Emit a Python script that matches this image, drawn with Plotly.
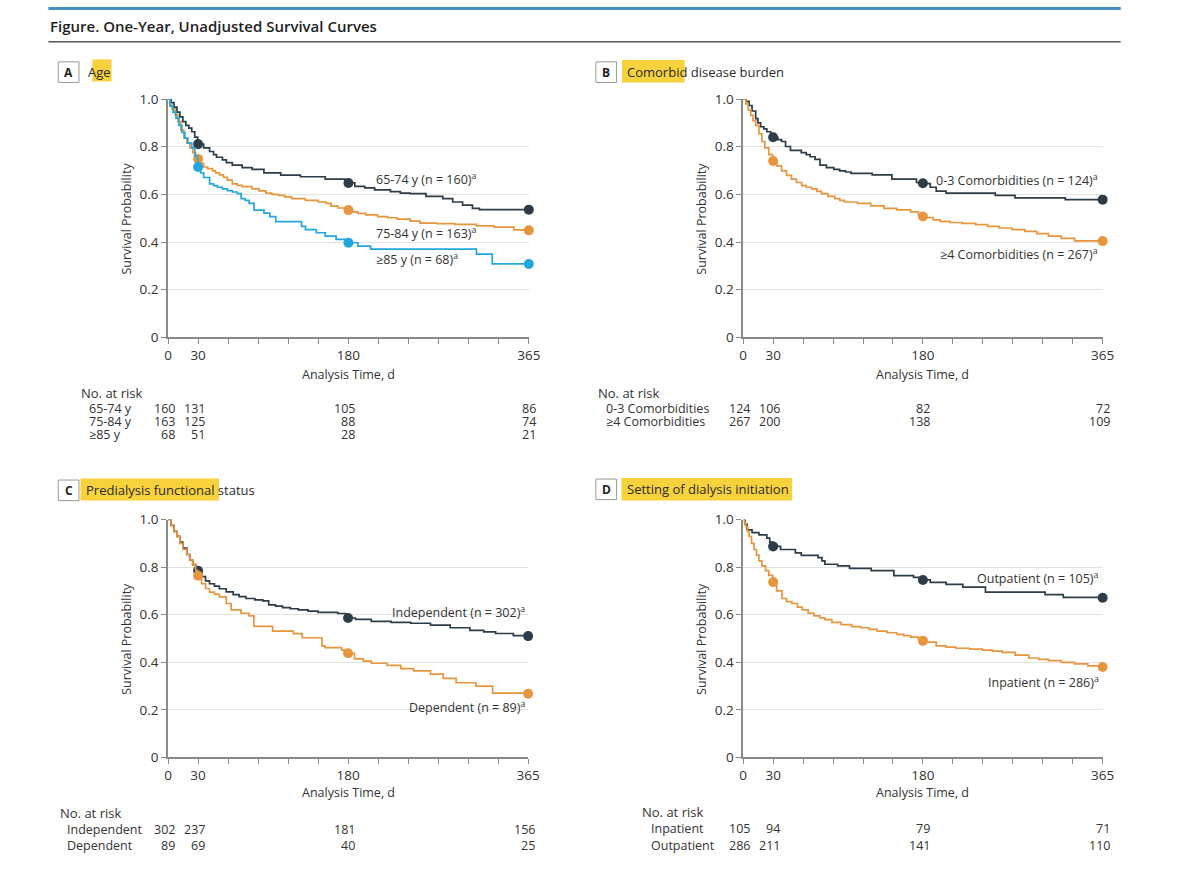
import plotly.graph_objects as go

# The page body keeps the browser's default 8 px margin, so the figure is made
# 16 px smaller than the window and every page position is shifted by 8 px.
PAGE_W, PAGE_H = 1200, 885
OFF = 8
W, H = PAGE_W - 2 * OFF, PAGE_H - 2 * OFF
MONTH = 365 / 12

# ---------------- data ----------------
tick_months = [0, 1, 6, 12]
tick_labels = ["0", "30", "180", "365"]
minor_months = list(range(13))
mark_months = [1, 6, 12]          # dots at 30 d, 180 d, 365 d

# Panel A: Age
a_labels = ["65-74 y", "75-84 y", "≥85 y"]
a_n = [160, 163, 68]
a1_t = [0, 3, 6, 9, 12, 15, 18, 21, 24, 27, 30, 36, 42, 46, 49, 55, 59, 65, 75, 85, 97, 114, 134, 159, 179, 189, 199, 209, 225, 235, 245, 261, 278, 288, 298, 308, 315, 365]
a1_s = [1, 0.985, 0.966, 0.945, 0.925, 0.905, 0.89, 0.878, 0.863, 0.84, 0.811, 0.795, 0.78, 0.767, 0.756, 0.745, 0.733, 0.723, 0.712, 0.705, 0.69, 0.681, 0.674, 0.664, 0.648, 0.634, 0.627, 0.619, 0.612, 0.605, 0.603, 0.592, 0.582, 0.568, 0.555, 0.541, 0.536, 0.536]
a2_t = [0, 2, 4, 7, 10, 13, 16, 19, 22, 25, 28, 30, 33, 36, 40, 45, 48, 52, 56, 60, 65, 70, 75, 85, 92, 99, 105, 112, 118, 125, 139, 152, 160, 165, 172, 179, 186, 192, 200, 212, 222, 232, 245, 255, 272, 290, 312, 330, 350, 365]
a2_s = [1, 0.975, 0.959, 0.935, 0.905, 0.87, 0.836, 0.815, 0.795, 0.775, 0.76, 0.749, 0.73, 0.715, 0.708, 0.699, 0.69, 0.682, 0.672, 0.66, 0.644, 0.638, 0.633, 0.623, 0.615, 0.605, 0.6, 0.596, 0.59, 0.582, 0.575, 0.568, 0.562, 0.551, 0.543, 0.534, 0.527, 0.52, 0.514, 0.507, 0.502, 0.496, 0.488, 0.479, 0.477, 0.474, 0.468, 0.463, 0.451, 0.451]
a3_t = [0, 2, 5, 8, 11, 14, 17, 20, 24, 27, 30, 33, 36, 42, 46, 50, 55, 60, 65, 70, 74, 78, 82, 87, 97, 103, 109, 135, 139, 150, 159, 170, 179, 192, 205, 312, 328, 365]
a3_s = [1, 0.97, 0.945, 0.92, 0.89, 0.86, 0.836, 0.815, 0.795, 0.76, 0.715, 0.69, 0.671, 0.644, 0.637, 0.63, 0.623, 0.616, 0.61, 0.603, 0.582, 0.575, 0.562, 0.534, 0.521, 0.507, 0.486, 0.466, 0.452, 0.439, 0.425, 0.411, 0.397, 0.383, 0.37, 0.349, 0.308, 0.308]
a_marks = [[0.811, 0.648, 0.536], [0.749, 0.534, 0.449], [0.715, 0.397, 0.308]]
a_risk = [[160, 131, 105, 86], [163, 125, 88, 74], [68, 51, 28, 21]]

# Panel B: Comorbid disease burden
b_labels = ["0-3 Comorbidities", "≥4 Comorbidities"]
b_n = [124, 267]
b1_t = [0, 3, 6, 9, 12.7, 15, 17.7, 21, 24, 28, 30, 35, 39, 43, 48, 59, 64, 68, 73, 78, 84.5, 92, 98, 104, 109.5, 131, 151, 176, 184, 190, 196, 206, 256, 276, 327, 365]
b1_s = [1, 0.99, 0.973, 0.95, 0.918, 0.9, 0.884, 0.875, 0.863, 0.85, 0.84, 0.83, 0.822, 0.801, 0.785, 0.775, 0.767, 0.758, 0.747, 0.723, 0.712, 0.705, 0.699, 0.694, 0.688, 0.682, 0.664, 0.65, 0.645, 0.63, 0.614, 0.605, 0.596, 0.585, 0.578, 0.578]
b2_t = [0, 2.7, 5, 7.7, 10, 12.7, 16, 19, 22, 26, 30, 34, 39, 44, 49, 54, 59.4, 64, 69.5, 75, 79.5, 86, 93, 98, 103, 116, 129.5, 143, 156, 170, 178, 186, 193, 200, 210, 222, 236, 248, 260, 273, 286, 298, 310, 323, 336.5, 365]
b2_s = [1, 0.98, 0.955, 0.932, 0.91, 0.89, 0.855, 0.822, 0.795, 0.767, 0.74, 0.72, 0.699, 0.68, 0.664, 0.65, 0.637, 0.63, 0.623, 0.613, 0.603, 0.592, 0.582, 0.575, 0.568, 0.562, 0.552, 0.541, 0.535, 0.527, 0.513, 0.503, 0.493, 0.487, 0.482, 0.478, 0.473, 0.466, 0.459, 0.452, 0.445, 0.435, 0.425, 0.415, 0.405, 0.405]
b_marks = [[0.84, 0.647, 0.578], [0.74, 0.507, 0.404]]
b_risk = [[124, 106, 82, 72], [267, 200, 138, 109]]

# Panel C: Predialysis functional status
c_labels = ["Independent", "Dependent"]
c_n = [302, 89]
c1_t = [0, 3, 6, 9, 12, 15, 19, 22, 25, 28, 30, 34, 38, 42, 47, 52, 59, 66, 72, 79, 88, 96, 102, 109, 116, 124, 132, 142, 152, 172, 180, 190, 206, 226, 246, 266, 286, 306, 320, 332, 350, 365]
c1_s = [1, 0.975, 0.95, 0.929, 0.905, 0.88, 0.853, 0.83, 0.81, 0.795, 0.785, 0.76, 0.742, 0.73, 0.72, 0.709, 0.696, 0.684, 0.676, 0.668, 0.662, 0.658, 0.641, 0.636, 0.63, 0.625, 0.62, 0.615, 0.61, 0.605, 0.586, 0.58, 0.572, 0.568, 0.564, 0.556, 0.545, 0.534, 0.528, 0.521, 0.512, 0.512]
c2_t = [0, 3, 6, 9, 12, 15, 19, 22, 25, 28, 30, 34, 38, 42, 47, 52, 59, 64, 74, 82, 87, 106, 127, 136, 156, 159, 176, 182, 189, 198, 206, 222, 236, 249, 266, 279, 292, 312, 329, 365]
c2_s = [1, 0.975, 0.95, 0.929, 0.9, 0.875, 0.853, 0.83, 0.81, 0.785, 0.764, 0.73, 0.71, 0.695, 0.686, 0.675, 0.647, 0.62, 0.606, 0.595, 0.551, 0.531, 0.52, 0.503, 0.469, 0.462, 0.451, 0.438, 0.414, 0.405, 0.396, 0.387, 0.373, 0.364, 0.35, 0.332, 0.314, 0.3, 0.27, 0.27]
c_marks = [[0.785, 0.586, 0.51], [0.764, 0.438, 0.268]]
c_risk = [[302, 237, 181, 156], [89, 69, 40, 25]]

# Panel D: Setting of dialysis initiation
d_labels = ["Outpatient", "Inpatient"]
d_n = [105, 286]
d1_t = [0, 2, 4, 9, 16, 24, 27, 30, 38, 53, 59, 76, 80, 83, 96, 108, 130, 153, 173, 180, 190, 206, 223, 246, 306.5, 325, 365]
d1_s = [1, 0.98, 0.956, 0.945, 0.935, 0.922, 0.905, 0.887, 0.874, 0.86, 0.849, 0.84, 0.826, 0.812, 0.805, 0.795, 0.785, 0.764, 0.757, 0.746, 0.736, 0.727, 0.716, 0.695, 0.684, 0.673, 0.673]
d2_t = [0, 1.5, 2.7, 4.5, 6, 8.5, 11, 13.5, 16, 19, 22.7, 26, 30, 34, 39.4, 44, 49.4, 55, 60, 66, 72, 78, 83, 90, 99.5, 110, 119.5, 128, 136, 146, 156, 163, 170, 178, 186, 196, 206, 216, 230, 243, 253, 263, 276, 290, 300, 310, 323, 336.5, 350, 365]
d2_s = [1, 0.985, 0.97, 0.95, 0.929, 0.9, 0.874, 0.85, 0.826, 0.805, 0.785, 0.765, 0.737, 0.7, 0.668, 0.655, 0.647, 0.632, 0.62, 0.606, 0.595, 0.587, 0.579, 0.568, 0.558, 0.55, 0.545, 0.538, 0.531, 0.524, 0.517, 0.512, 0.506, 0.497, 0.485, 0.469, 0.464, 0.459, 0.455, 0.451, 0.447, 0.442, 0.43, 0.418, 0.412, 0.407, 0.4, 0.393, 0.385, 0.382]
d_marks = [[0.887, 0.746, 0.671], [0.737, 0.49, 0.38]]
d_table_labels = ["Inpatient", "Outpatient"]
d_risk = [[105, 94, 79, 71], [286, 211, 141, 110]]

# ---------------- style ----------------
DARK = "#2C3D49"
ORANGE = "#E8963D"
BLUE = "#22A6DD"
TXT = "#333333"
AX = "#8a8a8a"
GRID = "#e2e2e2"
FONT = "Open Sans"


def px(x):
    return (x - OFF) / W


def py(y):
    return 1 - (y - OFF) / H


panels = [
    dict(letter="A", title="Age", xd=(174.3, 540), yd=(100, 343.3), xn="", box=(63, 62),
         tx=91, hl=(97.5, 59.5, 117, 82), ylab_x=132, xtitle_y=381,
         series=[(a1_t, a1_s, DARK, a_marks[0]), (a2_t, a2_s, ORANGE, a_marks[1]), (a3_t, a3_s, BLUE, a_marks[2])],
         labels=[f"{l} (n = {n})<sup>a</sup>" for l, n in zip(a_labels, a_n)],
         lab_pos=[(383, 181.7), (383, 236.7), (383, 263)], lab_anchor="left",
         tbl_head=(84, 400), tbl_lab_x=92, tbl_rows=[416, 429.5, 443], tbl_labels=a_labels, risk=a_risk),
    dict(letter="B", title="Comorbid disease burden", xd=(757.3, 1121.7), yd=(100, 343.3), xn="2", box=(608, 62),
         tx=637, hl=(634.5, 60, 698, 83), ylab_x=715, xtitle_y=381,
         series=[(b1_t, b1_s, DARK, b_marks[0]), (b2_t, b2_s, ORANGE, b_marks[1])],
         labels=[f"{l} (n = {n})<sup>a</sup>" for l, n in zip(b_labels, b_n)],
         lab_pos=[(1119, 182.7), (1119, 258)], lab_anchor="right",
         tbl_head=(608.6, 400), tbl_lab_x=616, tbl_rows=[416, 429.5], tbl_labels=b_labels, risk=b_risk),
    dict(letter="C", title="Predialysis functional status", xd=(174.3, 539.3), yd=(529.3, 772.3), xn="3", box=(63, 489),
         tx=89, hl=(85.5, 487.5, 226, 510), ylab_x=132, xtitle_y=808,
         series=[(c1_t, c1_s, DARK, c_marks[0]), (c2_t, c2_s, ORANGE, c_marks[1])],
         labels=[f"{l} (n = {n})<sup>a</sup>" for l, n in zip(c_labels, c_n)],
         lab_pos=[(538, 624), (538, 720.7)], lab_anchor="right",
         tbl_head=(63, 829), tbl_lab_x=70, tbl_rows=[846, 862], tbl_labels=c_labels, risk=c_risk),
    dict(letter="D", title="Setting of dialysis initiation", xd=(757.3, 1121.7), yd=(529.3, 772.3), xn="4", box=(608, 488),
         tx=637, hl=(634, 487, 807, 510), ylab_x=715, xtitle_y=808,
         series=[(d1_t, d1_s, DARK, d_marks[0]), (d2_t, d2_s, ORANGE, d_marks[1])],
         labels=[f"{l} (n = {n})<sup>a</sup>" for l, n in zip(d_labels, d_n)],
         lab_pos=[(1120, 589), (1120, 695)], lab_anchor="right",
         tbl_head=(653, 828), tbl_lab_x=662, tbl_rows=[845, 862], tbl_labels=d_table_labels, risk=d_risk),
]

fig = go.Figure()
shapes = []
annotations = []
layout = {}

markx = [m * MONTH for m in mark_months]

for p in panels:
    xn = p["xn"]
    xref = "x" + xn
    yref = "y" + xn
    for t, s, col, mk in p["series"]:
        fig.add_trace(go.Scatter(x=t, y=s, mode="lines", line=dict(color=col, width=1.7, shape="hv"),
                                 xaxis=xref, yaxis=yref, showlegend=False, hoverinfo="skip"))
        fig.add_trace(go.Scatter(x=markx, y=mk, mode="markers", marker=dict(color=col, size=10),
                                 xaxis=xref, yaxis=yref, showlegend=False, cliponaxis=False))
    layout["xaxis" + xn] = dict(domain=[px(p["xd"][0]), px(p["xd"][1])], range=[0, 365], anchor=yref,
                                tickmode="array", tickvals=[m * MONTH for m in tick_months],
                                ticktext=tick_labels, ticks="outside", ticklen=5,
                                tickcolor=AX, tickwidth=1.2,
                                minor=dict(tickmode="array", tickvals=[m * MONTH for m in minor_months],
                                           ticks="outside", ticklen=5, tickcolor=AX, tickwidth=1.2,
                                           showgrid=False),
                                showline=True, linecolor=AX, linewidth=1.5,
                                showgrid=False, zeroline=False, fixedrange=True,
                                tickfont=dict(family=FONT, size=13.5, color=TXT))
    layout["yaxis" + xn] = dict(domain=[py(p["yd"][1]), py(p["yd"][0])], range=[0, 1], anchor=xref,
                                tickmode="array", tickvals=[0, 0.2, 0.4, 0.6, 0.8, 1.0],
                                ticktext=["0", "0.2", "0.4", "0.6", "0.8", "1.0"],
                                ticks="outside", ticklen=5, tickcolor=AX, tickwidth=1.2,
                                showline=True, linecolor=AX, linewidth=1.5, showgrid=True,
                                gridcolor=GRID, gridwidth=1, zeroline=False, fixedrange=True,
                                tickfont=dict(family=FONT, size=13.5, color=TXT))
    # panel letter box and title
    bx, by = p["box"]
    shapes.append(dict(type="rect", xref="paper", yref="paper", x0=px(bx), x1=px(bx + 21),
                       y0=py(by + 21), y1=py(by), line=dict(color="#999999", width=1), fillcolor="white"))
    annotations.append(dict(text="<b>" + p["letter"] + "</b>", xref="paper", yref="paper",
                            x=px(bx + 10.5), y=py(by + 10.5), xanchor="center", yanchor="middle",
                            showarrow=False, font=dict(family=FONT, size=12, color="#222")))
    hx0, hy0, hx1, hy1 = p["hl"]
    shapes.append(dict(type="rect", xref="paper", yref="paper", x0=px(hx0), x1=px(hx1),
                       y0=py(hy1), y1=py(hy0), line=dict(width=0), fillcolor="#F8D23C", layer="below"))
    annotations.append(dict(text=p["title"], xref="paper", yref="paper", x=px(p["tx"]),
                            y=py(by + 10.5), xanchor="left", yanchor="middle", showarrow=False,
                            font=dict(family=FONT, size=13, color="#2a2a2a")))
    # axis titles
    xmid = (p["xd"][0] + p["xd"][1]) / 2
    annotations.append(dict(text="Analysis Time, d", xref="paper", yref="paper", x=px(xmid),
                            y=py(p["xtitle_y"]), xanchor="center", yanchor="middle", showarrow=False,
                            font=dict(family=FONT, size=12.5, color=TXT)))
    ymid = (p["yd"][0] + p["yd"][1]) / 2
    annotations.append(dict(text="Survival Probability", xref="paper", yref="paper", x=px(p["ylab_x"]),
                            y=py(ymid), xanchor="center", yanchor="middle", textangle=-90,
                            showarrow=False, font=dict(family=FONT, size=12.5, color=TXT)))
    # curve labels
    for lab, (lx, ly) in zip(p["labels"], p["lab_pos"]):
        annotations.append(dict(text=lab, xref="paper", yref="paper", x=px(lx), y=py(ly),
                                xanchor=p["lab_anchor"], yanchor="middle", showarrow=False,
                                font=dict(family=FONT, size=12.5, color=TXT)))
    # number at risk table
    hx, hy = p["tbl_head"]
    annotations.append(dict(text="No. at risk", xref="paper", yref="paper", x=px(hx), y=py(hy),
                            xanchor="left", yanchor="middle", showarrow=False,
                            font=dict(family=FONT, size=13, color=TXT)))
    for lab, ry, vals in zip(p["tbl_labels"], p["tbl_rows"], p["risk"]):
        annotations.append(dict(text=lab, xref="paper", yref="paper", x=px(p["tbl_lab_x"]), y=py(ry),
                                xanchor="left", yanchor="middle", showarrow=False,
                                font=dict(family=FONT, size=12.5, color=TXT)))
        for m, v in zip([0] + mark_months, vals):
            annotations.append(dict(text=str(v), xref=xref, yref="paper", x=m * MONTH, y=py(ry),
                                    xanchor="right", yanchor="middle", xshift=9, showarrow=False,
                                    font=dict(family=FONT, size=12.5, color=TXT)))

# figure title and rules
shapes.append(dict(type="line", xref="paper", yref="paper", x0=px(53), x1=px(1140), y0=py(7.5), y1=py(7.5),
                   line=dict(color="#4290C4", width=3)))
shapes.append(dict(type="line", xref="paper", yref="paper", x0=px(53), x1=px(1140), y0=py(41.5), y1=py(41.5),
                   line=dict(color="#555555", width=1.5)))
annotations.append(dict(text="Figure. One-Year, Unadjusted Survival Curves", xref="paper", yref="paper",
                        x=px(53), y=py(25), xanchor="left", yanchor="middle", showarrow=False,
                        font=dict(family=FONT, size=15, color="#1e1e1e", weight=600)))

fig.update_layout(width=W, height=H, margin=dict(l=0, r=0, t=0, b=0), paper_bgcolor="white",
                  plot_bgcolor="white", shapes=shapes, annotations=annotations, **layout)

fig.write_html("out.html")
